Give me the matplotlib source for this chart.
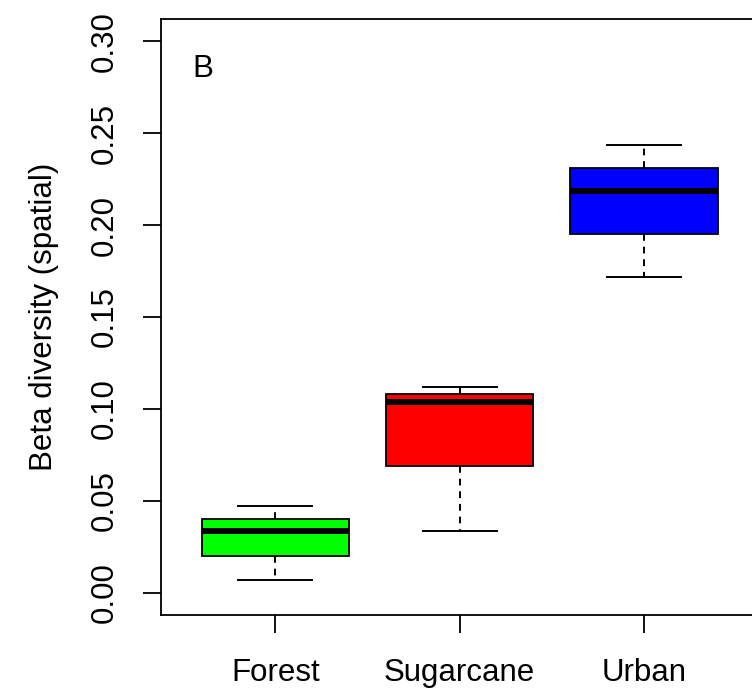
import matplotlib
matplotlib.use("Agg")
import matplotlib.pyplot as plt

plt.rcParams['font.family'] = ['Liberation Sans', 'DejaVu Sans']

categories = ["Forest", "Sugarcane", "Urban"]
whisker_low = [0.0069, 0.0336, 0.1720]
q1 = [0.0201, 0.0688, 0.1951]
median = [0.0334, 0.1038, 0.2184]
q3 = [0.0401, 0.1080, 0.2309]
whisker_high = [0.0475, 0.1122, 0.2434]
colors = ["#00FF00", "#FF0000", "#0000FF"]
yticks = [0.00, 0.05, 0.10, 0.15, 0.20, 0.25, 0.30]
panel_label = "B"
ylabel = "Beta diversity (spatial)"

fig = plt.figure(figsize=(7.52, 6.95), dpi=100)
ax = fig.add_axes([161/752, 1 - 615/695, (758.4 - 161)/752, (615 - 19)/695])

stats = []
for i, c in enumerate(categories):
    stats.append(dict(label=c, whislo=whisker_low[i], q1=q1[i], med=median[i],
                      q3=q3[i], whishi=whisker_high[i], fliers=[]))

positions = list(range(1, len(categories) + 1))
bp = ax.bxp(stats, positions=positions, widths=0.8, patch_artist=True,
            showfliers=False,
            boxprops=dict(edgecolor="black", linewidth=1.3),
            medianprops=dict(color="black", linewidth=4.3, solid_capstyle="butt"),
            whiskerprops=dict(color="black", linewidth=1.4, linestyle=(0, (3.5, 3))),
            capprops=dict(color="black", linewidth=1.4),
            capwidths=0.4)
for patch, col in zip(bp["boxes"], colors):
    patch.set_facecolor(col)

ax.set_xlim(0.38, 3.62)
ax.set_ylim(-0.012, 0.312)

for s in ax.spines.values():
    s.set_linewidth(1.3)

ax.set_yticks(yticks)
ax.set_yticklabels([f"{v:.2f}" for v in yticks], rotation=90, va="center")
ax.set_xticks(positions)
ax.set_xticklabels(categories)
ax.tick_params(axis="both", length=13, width=1.3, labelsize=22.5, direction="out")
ax.tick_params(axis="y", pad=17)
ax.tick_params(axis="x", pad=18)

ax.set_ylabel(ylabel, fontsize=22.5, labelpad=22)
ax.text(0.549, 0.2848, panel_label, fontsize=22.5, ha="left", va="center")

fig.savefig("out.png", dpi=100)
